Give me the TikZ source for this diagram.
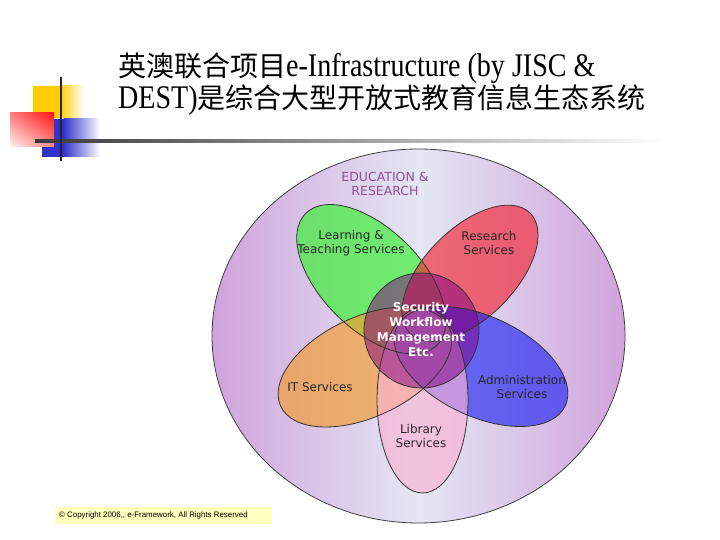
\documentclass[tikz,border=0pt]{standalone}
\usepackage{fontspec}
\usetikzlibrary{shadings}
\setmainfont{Liberation Serif}
\newfontfamily\titlelat[FakeStretch=0.85]{Liberation Serif}
\newfontfamily\cjk{Noto Sans CJK SC}
\newfontfamily\diag{DejaVu Sans}
\newfontfamily\foot{Liberation Sans}
\definecolor{decoY}{RGB}{255,204,0}
\definecolor{decoB}{RGB}{51,51,204}
\definecolor{decoR}{RGB}{255,20,20}
\definecolor{bigE}{RGB}{208,163,220}
\definecolor{bigM}{RGB}{228,230,243}
\definecolor{pGreen}{RGB}{51,242,43}
\definecolor{pRed}{RGB}{243,38,51}
\definecolor{pBlue}{RGB}{35,38,243}
\definecolor{pOrange}{RGB}{243,154,43}
\definecolor{pPink}{RGB}{251,177,212}
\definecolor{core}{RGB}{128,0,128}
\definecolor{eduText}{RGB}{145,80,145}
\definecolor{footY}{RGB}{255,255,190}
\begin{document}
\begin{tikzpicture}[x=1pt,y=1pt,
  petal/.style={fill opacity=0.65},
  outl/.style={draw=black!80, line width=0.8pt},
  lbl/.style={font=\diag\fontsize{12}{14}\selectfont, align=center, text=black!85, inner sep=0pt},
  corelbl/.style={font=\diag\bfseries\fontsize{12}{15}\selectfont, align=center, text=white, inner sep=0pt},
  titletext/.style={anchor=base west, inner sep=0pt}
]
\fill[white] (0,0) rectangle (720,540);
\useasboundingbox (0,0) rectangle (720,540);

% decoration
\fill[decoY] (33,454) rectangle (60,422);
\shade[left color=decoY, right color=white] (59.5,454) rectangle (84,422);
\fill[decoB] (42,421) rectangle (64,383);
\shade[left color=decoB, right color=white] (63.5,421) rectangle (100,383);
\shade[upper right=decoR, upper left=decoR!55!white, lower right=decoR!50!white, lower left=decoR!6!white] (10,427) rectangle (54,393);
\shade[left color=black!78, right color=white] (35,400.5) rectangle (665,397.5);
\draw[line width=2.5pt, black!85] (61,463) -- (61,379);

% title
\node[titletext] (t1) at (118,463) {\fontsize{28}{32}\selectfont{\cjk 英澳联合项目}{\fontsize{33}{36}\titlelat e-Infrastructure (by JISC \&}};
\node[titletext] (t2) at (118,431) {\fontsize{28}{32}\selectfont{\fontsize{33}{36}\titlelat DEST)}{\cjk 是综合大型开放式教育信息生态系统}};

% big ellipse
\shade[left color=bigE, right color=bigE, middle color=bigM] (418.5,204) ellipse [x radius=206.5, y radius=187];
\draw[black!75, line width=0.8pt] (418.5,204) ellipse [x radius=206.5, y radius=187];

% petals fills
\fill[petal, pGreen] (371.4,260.8) ellipse [x radius=93, y radius=50, rotate=135];
\fill[petal, pRed] (470,266.8) ellipse [x radius=85, y radius=45, rotate=45];
\fill[petal, pOrange] (365,173) ellipse [x radius=93, y radius=50, rotate=25];
\fill[petal, pBlue] (481,173.5) ellipse [x radius=93, y radius=50, rotate=-25];
\fill[petal, pPink] (422.5,140) ellipse [x radius=93, y radius=45.5, rotate=90];
\fill[core, fill opacity=0.5] (421.5,209.5) circle [radius=57.5];

% outlines
\draw[outl] (371.4,260.8) ellipse [x radius=93, y radius=50, rotate=135];
\draw[outl] (470,266.8) ellipse [x radius=85, y radius=45, rotate=45];
\draw[outl] (365,173) ellipse [x radius=93, y radius=50, rotate=25];
\draw[outl] (481,173.5) ellipse [x radius=93, y radius=50, rotate=-25];
\draw[outl] (422.5,140) ellipse [x radius=93, y radius=45.5, rotate=90];
\draw[outl] (421.5,209.5) circle [radius=57.5];

% labels
\node[lbl, text=eduText, font=\diag\fontsize{12.5}{14}\selectfont] (edu) at (385,356) {EDUCATION \&\\RESEARCH};
\node[lbl] (learn) at (351,297) {Learning \&\\Teaching Services};
\node[lbl] (res) at (489,297) {Research\\Services};
\node[corelbl] (core) at (421,210.5) {Security\\Workflow\\Management\\Etc.};
\node[lbl] (it) at (320,153) {IT Services};
\node[lbl] (adm) at (522,153) {Administration\\Services};
\node[lbl] (lib) at (421,104) {Library\\Services};

% footer
\fill[footY] (55,33) rectangle (272,16);
\node[anchor=west, inner sep=0pt, font=\foot\fontsize{7.9}{9}\selectfont] (foot) at (59,24.5) {© Copyright 2006,, e-Framework, All Rights Reserved};
\end{tikzpicture}
\end{document}
